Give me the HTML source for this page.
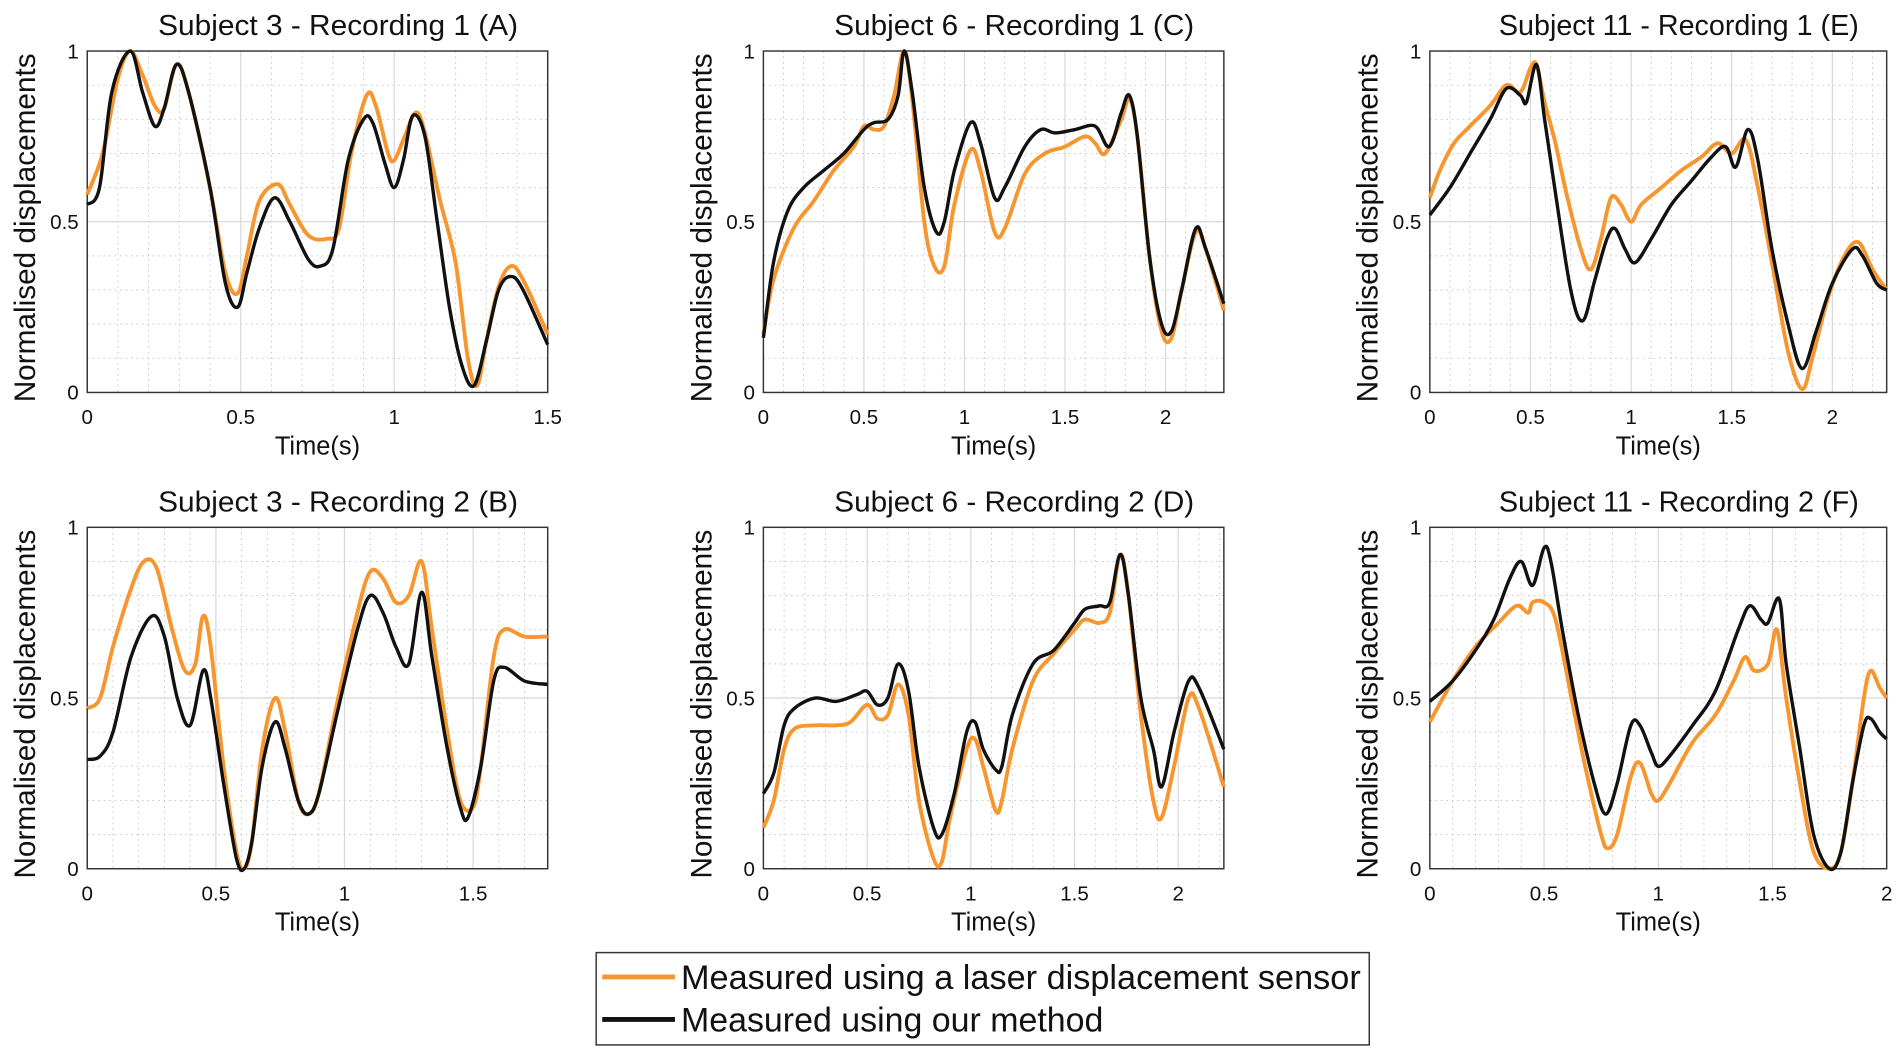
<!DOCTYPE html>
<html><head><meta charset="utf-8"><style>
html,body{margin:0;padding:0;background:#fff;}
svg{display:block;}
text{font-family:"Liberation Sans",sans-serif;fill:#111;}
</style></head><body>
<svg id="s" width="1900" height="1051" viewBox="0 0 1568 865" preserveAspectRatio="none" xmlns="http://www.w3.org/2000/svg"></svg>
<script>
const S=document.getElementById('s');
const NS='http://www.w3.org/2000/svg';
function el(t,a,txt){const e=document.createElementNS(NS,t);for(const k in a)e.setAttribute(k,a[k]);if(txt!==undefined)e.textContent=txt;S.appendChild(e);return e;}
const P=[
{t:'Subject 3 - Recording 1 (A)',x0:72,x1:452,y0:42,y1:323,xm:1.5,ticks:[[0,'0'],[0.5,'0.5'],[1,'1'],[1.5,'1.5']],
o:[[0,.58],[.05,.7],[.1,.92],[.14,1],[.18,.93],[.22,.84],[.25,.83],[.29,.96],[.33,.88],[.4,.6],[.45,.35],[.49,.29],[.52,.4],[.56,.56],[.62,.61],[.66,.55],[.72,.46],[.78,.45],[.82,.48],[.86,.7],[.91,.87],[.94,.84],[.98,.7],[1.0,.68],[1.03,.74],[1.07,.82],[1.1,.76],[1.15,.56],[1.2,.38],[1.24,.1],[1.27,.02],[1.3,.15],[1.34,.31],[1.38,.37],[1.42,.33],[1.5,.17]],
b:[[0,.55],[.04,.6],[.08,.88],[.14,1],[.18,.88],[.22,.78],[.25,.83],[.29,.96],[.33,.88],[.4,.6],[.45,.32],[.49,.25],[.52,.35],[.56,.48],[.61,.57],[.66,.5],[.72,.39],[.76,.37],[.8,.42],[.85,.68],[.9,.8],[.93,.79],[.97,.67],[1.0,.6],[1.03,.68],[1.06,.81],[1.1,.75],[1.14,.5],[1.18,.25],[1.22,.08],[1.26,.02],[1.3,.15],[1.34,.3],[1.38,.34],[1.42,.3],[1.5,.14]]},
{t:'Subject 6 - Recording 1 (C)',x0:630,x1:1010,y0:42,y1:323,xm:2.29,ticks:[[0,'0'],[0.5,'0.5'],[1,'1'],[1.5,'1.5'],[2,'2']],
o:[[0,.17],[.05,.33],[.15,.48],[.25,.56],[.35,.65],[.45,.72],[.5,.78],[.55,.77],[.6,.78],[.65,.87],[.7,1],[.74,.86],[.8,.5],[.85,.37],[.9,.37],[.95,.55],[1.03,.71],[1.08,.65],[1.15,.47],[1.2,.48],[1.3,.64],[1.4,.7],[1.5,.72],[1.6,.75],[1.65,.73],[1.7,.7],[1.78,.8],[1.82,.86],[1.86,.75],[1.92,.4],[1.98,.18],[2.03,.16],[2.08,.3],[2.15,.47],[2.2,.42],[2.29,.24]],
b:[[0,.16],[.05,.38],[.12,.53],[.2,.6],[.3,.65],[.4,.7],[.5,.77],[.55,.79],[.62,.8],[.67,.87],[.7,1],[.74,.88],[.8,.6],[.86,.47],[.9,.5],[.95,.65],[1.03,.79],[1.08,.73],[1.15,.57],[1.2,.6],[1.3,.72],[1.38,.77],[1.45,.76],[1.55,.77],[1.65,.78],[1.72,.72],[1.78,.82],[1.82,.87],[1.86,.75],[1.92,.4],[1.98,.2],[2.03,.18],[2.08,.3],[2.15,.48],[2.2,.42],[2.29,.26]]},
{t:'Subject 11 - Recording 1 (E)',x0:1180,x1:1557,y0:42,y1:323,xm:2.27,ticks:[[0,'0'],[0.5,'0.5'],[1,'1'],[1.5,'1.5'],[2,'2']],
o:[[0,.57],[.05,.65],[.12,.73],[.2,.78],[.3,.84],[.38,.9],[.45,.88],[.5,.95],[.53,.96],[.57,.85],[.62,.74],[.68,.58],[.75,.42],[.8,.36],[.85,.45],[.9,.57],[.95,.55],[1.0,.5],[1.05,.55],[1.15,.6],[1.25,.65],[1.35,.69],[1.43,.73],[1.5,.7],[1.57,.74],[1.63,.6],[1.7,.38],[1.78,.12],[1.85,.01],[1.9,.1],[1.98,.28],[2.06,.4],[2.13,.44],[2.2,.36],[2.27,.3]],
b:[[0,.52],[.1,.6],[.2,.7],[.3,.8],[.38,.89],[.45,.87],[.48,.85],[.53,.96],[.57,.8],[.62,.6],[.7,.3],[.76,.21],[.82,.33],[.88,.45],[.92,.48],[.97,.42],[1.02,.38],[1.1,.45],[1.2,.55],[1.3,.62],[1.4,.69],[1.47,.72],[1.52,.66],[1.58,.77],[1.63,.68],[1.7,.42],[1.78,.2],[1.85,.07],[1.92,.18],[2.0,.32],[2.1,.42],[2.15,.4],[2.22,.32],[2.27,.3]]},
{t:'Subject 3 - Recording 2 (B)',x0:72,x1:452,y0:434,y1:715,xm:1.79,ticks:[[0,'0'],[0.5,'0.5'],[1,'1'],[1.5,'1.5']],
o:[[0,.47],[.05,.5],[.1,.65],[.17,.82],[.22,.9],[.27,.88],[.33,.7],[.38,.58],[.42,.6],[.45,.74],[.48,.65],[.53,.3],[.58,.05],[.61,0],[.64,.08],[.68,.35],[.73,.5],[.77,.4],[.82,.2],[.86,.16],[.9,.22],[.97,.48],[1.05,.75],[1.1,.87],[1.15,.85],[1.2,.78],[1.25,.8],[1.3,.9],[1.34,.7],[1.4,.4],[1.45,.2],[1.5,.18],[1.53,.3],[1.58,.62],[1.62,.7],[1.7,.68],[1.79,.68]],
b:[[0,.32],[.05,.33],[.1,.4],[.17,.62],[.25,.74],[.3,.68],[.35,.5],[.4,.42],[.45,.58],[.48,.5],[.53,.25],[.58,.03],[.61,0],[.64,.08],[.68,.3],[.73,.43],[.77,.35],[.82,.2],[.86,.16],[.9,.22],[.97,.45],[1.05,.7],[1.1,.8],[1.15,.75],[1.2,.65],[1.25,.6],[1.3,.81],[1.34,.62],[1.4,.35],[1.45,.18],[1.48,.15],[1.53,.3],[1.58,.55],[1.62,.59],[1.7,.55],[1.79,.54]]},
{t:'Subject 6 - Recording 2 (D)',x0:630,x1:1010,y0:434,y1:715,xm:2.22,ticks:[[0,'0'],[0.5,'0.5'],[1,'1'],[1.5,'1.5'],[2,'2']],
o:[[0,.12],[.05,.2],[.1,.35],[.15,.41],[.25,.42],[.35,.42],[.42,.43],[.5,.48],[.55,.44],[.6,.45],[.65,.54],[.7,.45],[.75,.2],[.82,.03],[.86,.02],[.9,.15],[.98,.35],[1.02,.38],[1.06,.3],[1.12,.17],[1.15,.2],[1.2,.35],[1.3,.55],[1.4,.63],[1.5,.7],[1.55,.73],[1.62,.72],[1.67,.75],[1.72,.92],[1.76,.8],[1.82,.45],[1.88,.2],[1.92,.15],[1.98,.3],[2.05,.5],[2.1,.47],[2.22,.24]],
b:[[0,.22],[.05,.28],[.1,.42],[.15,.47],[.25,.5],[.35,.49],[.45,.51],[.5,.52],[.55,.48],[.6,.5],[.65,.6],[.7,.52],[.75,.3],[.82,.12],[.86,.1],[.92,.22],[.98,.4],[1.02,.43],[1.06,.35],[1.12,.29],[1.15,.3],[1.2,.45],[1.3,.6],[1.4,.64],[1.5,.72],[1.55,.76],[1.62,.77],[1.67,.78],[1.72,.92],[1.76,.8],[1.82,.5],[1.88,.35],[1.92,.24],[1.98,.4],[2.05,.55],[2.1,.53],[2.22,.35]]},
{t:'Subject 11 - Recording 2 (F)',x0:1180,x1:1557,y0:434,y1:715,xm:2.0,ticks:[[0,'0'],[0.5,'0.5'],[1,'1'],[1.5,'1.5'],[2,'2']],
o:[[0,.43],[.1,.55],[.2,.65],[.3,.72],[.38,.77],[.43,.75],[.45,.78],[.5,.78],[.55,.73],[.62,.5],[.68,.3],[.75,.1],[.78,.06],[.82,.1],[.88,.27],[.92,.31],[.97,.22],[1.0,.2],[1.05,.25],[1.15,.37],[1.25,.45],[1.33,.55],[1.38,.62],[1.42,.58],[1.48,.6],[1.52,.7],[1.56,.5],[1.62,.25],[1.68,.05],[1.75,0],[1.8,.05],[1.85,.25],[1.9,.5],[1.93,.58],[1.97,.53],[2.0,.5]],
b:[[0,.49],[.1,.55],[.2,.64],[.28,.73],[.35,.85],[.4,.9],[.45,.83],[.5,.94],[.53,.9],[.58,.7],[.65,.45],[.72,.25],[.77,.16],[.82,.25],[.88,.42],[.92,.42],[.97,.34],[1.0,.3],[1.05,.33],[1.15,.42],[1.25,.52],[1.35,.7],[1.4,.77],[1.45,.73],[1.48,.72],[1.53,.79],[1.56,.6],[1.62,.35],[1.68,.1],[1.75,0],[1.8,.05],[1.85,.25],[1.9,.42],[1.93,.44],[1.97,.4],[2.0,.38]]}
];
function spline(pts){let d='M'+pts[0][0].toFixed(1)+','+pts[0][1].toFixed(1);
for(let i=0;i<pts.length-1;i++){const p0=pts[Math.max(0,i-1)],p1=pts[i],p2=pts[i+1],p3=pts[Math.min(pts.length-1,i+2)];
const c1=[p1[0]+(p2[0]-p0[0])/6,p1[1]+(p2[1]-p0[1])/6],c2=[p2[0]-(p3[0]-p1[0])/6,p2[1]-(p3[1]-p1[1])/6];
d+=' C'+c1.map(v=>v.toFixed(1))+' '+c2.map(v=>v.toFixed(1))+' '+p2.map(v=>v.toFixed(1));}return d;}
P.forEach(p=>{
const W=p.x1-p.x0,H=p.y1-p.y0;
const X=v=>p.x0+v/p.xm*W,Y=v=>p.y1-v*H;
for(let v=0.1;v<1;v+=0.1){if(Math.abs(v-0.5)<1e-6)continue;el('line',{x1:p.x0,x2:p.x1,y1:Y(v),y2:Y(v),stroke:'#ccc','stroke-width':0.8,'stroke-dasharray':'1.5,3'});}
for(let v=0.1;v<p.xm;v+=0.1){if(Math.abs(v*2-Math.round(v*2))<1e-6)continue;el('line',{x1:X(v),x2:X(v),y1:p.y0,y2:p.y1,stroke:'#ccc','stroke-width':0.8,'stroke-dasharray':'1.5,3'});}
el('line',{x1:p.x0,x2:p.x1,y1:Y(.5),y2:Y(.5),stroke:'#d8d8d8','stroke-width':1});
p.ticks.forEach(t=>{if(t[0]>0)el('line',{x1:X(t[0]),x2:X(t[0]),y1:p.y0,y2:p.y1,stroke:'#d8d8d8','stroke-width':1});});
el('rect',{x:p.x0,y:p.y0,width:W,height:H,fill:'none',stroke:'#333','stroke-width':1.2});
const cp=(a)=>spline(a.map(q=>[X(q[0]),Y(q[1])]));
el('path',{d:cp(p.o),fill:'none',stroke:'#f7962f','stroke-width':3.2,'stroke-linejoin':'round'});
el('path',{d:cp(p.b),fill:'none',stroke:'#111','stroke-width':2.8,'stroke-linejoin':'round'});
el('text',{x:(p.x0+p.x1)/2+17,y:p.y0-13,'font-size':23.5,'text-anchor':'middle',textLength:297,lengthAdjust:'spacingAndGlyphs'},p.t);
p.ticks.forEach(t=>el('text',{x:X(t[0]),y:p.y1+26,'font-size':17,'text-anchor':'middle'},t[1]));
[[0,'0'],[0.5,'0.5'],[1,'1']].forEach(t=>el('text',{x:p.x0-7,y:Y(t[0])+6,'font-size':17,'text-anchor':'end'},t[1]));
el('text',{x:(p.x0+p.x1)/2,y:p.y1+51,'font-size':21,'text-anchor':'middle'},'Time(s)');
const cx=p.x0-43,cy=(p.y0+p.y1)/2+5;
el('text',{x:cx,y:cy,'font-size':24.5,'text-anchor':'middle',transform:'rotate(-90 '+cx+' '+cy+')'},'Normalised displacements');
});
el('rect',{x:492,y:784,width:638,height:76,fill:'#fff',stroke:'#333','stroke-width':1.2});
el('line',{x1:497,x2:557,y1:804,y2:804,stroke:'#f7962f','stroke-width':4});
el('line',{x1:497,x2:557,y1:839,y2:839,stroke:'#111','stroke-width':4});
el('text',{x:562,y:814,'font-size':28,textLength:561,lengthAdjust:'spacingAndGlyphs'},'Measured using a laser displacement sensor');
el('text',{x:562,y:849,'font-size':28},'Measured using our method');
</script>
</body></html>
